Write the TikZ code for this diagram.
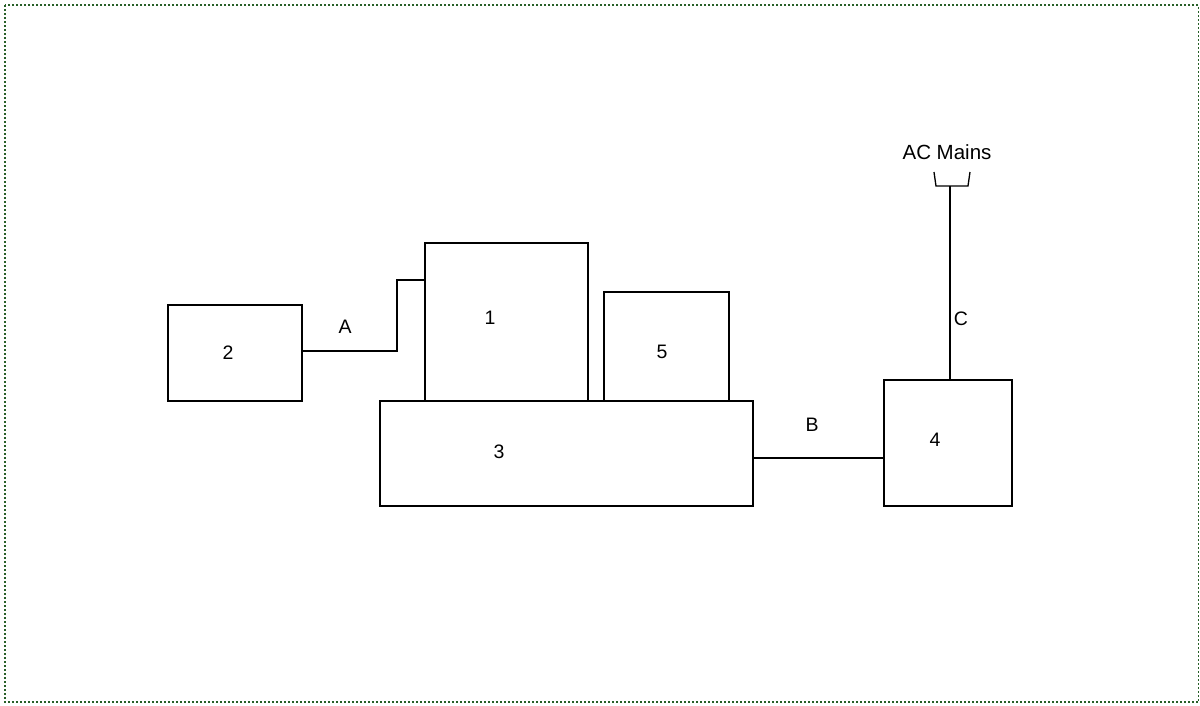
\documentclass[tikz,border=0pt]{standalone}
\usepackage{fontspec}
\setmainfont{Liberation Sans}
\begin{document}
\begin{tikzpicture}[x=1pt,y=-1pt,
  blk/.style={draw=black,line width=1.3pt,fill=white,inner sep=0pt},
  lbl/.style={font=\fontsize{19.5}{23}\selectfont,inner sep=0pt},
  wire/.style={draw=black,line width=1.3pt},
  frame/.style={draw={rgb,255:red,40;green,95;blue,40},line width=1.6pt,dash pattern=on 1.8pt off 2.2pt}]
\useasboundingbox (0,0) rectangle (1200,705);
\draw[frame] (5,5) rectangle (1198.5,702);

% blocks
\node[blk,minimum width=373pt,minimum height=105pt] (b3) at (566.5,453.5) {};
\node[blk,minimum width=163pt,minimum height=158pt] (b1) at (506.5,322) {};
\node[blk,minimum width=125pt,minimum height=109pt] (b5) at (666.5,346.5) {};
\node[blk,minimum width=134pt,minimum height=96pt] (b2) at (235,353) {};
\node[blk,minimum width=128pt,minimum height=126pt] (b4) at (948,443) {};

% block numbers
\node[lbl] (n1) at (490,318) {1};
\node[lbl] (n2) at (228,353) {2};
\node[lbl] (n3) at (499,452) {3};
\node[lbl] (n4) at (935,440) {4};
\node[lbl] (n5) at (662,352) {5};

% link A
\coordinate (a1) at (b2.east |- 0,351);
\coordinate (a2) at (397,351);
\coordinate (a3) at (b1.west |- 0,280);
\draw[wire] (a1) -- (a2) |- (a3);
\node[lbl] (la) at (345,327) {A};

% link B
\coordinate (bb1) at (b3.east |- 0,458);
\coordinate (bb2) at (b4.west |- 0,458);
\draw[wire] (bb1) -- (bb2);
\node[lbl] (lb) at (812,425) {B};

% link C to the mains plug
\coordinate (c1) at (950,380);
\coordinate (c2) at (950,186);
\draw[wire] (c1) -- (c2);
\node[lbl] (lc) at (961,319) {C};

% plug
\coordinate (p1) at (934,172);
\coordinate (p2) at (936,186);
\coordinate (p3) at (968,186);
\coordinate (p4) at (970,172);
\draw[wire,line join=miter] (p1) -- (p2) -- (p3) -- (p4);
\node[lbl,font=\fontsize{20.5}{24}\selectfont] (ac) at (947,152) {AC Mains};
\end{tikzpicture}
\end{document}
